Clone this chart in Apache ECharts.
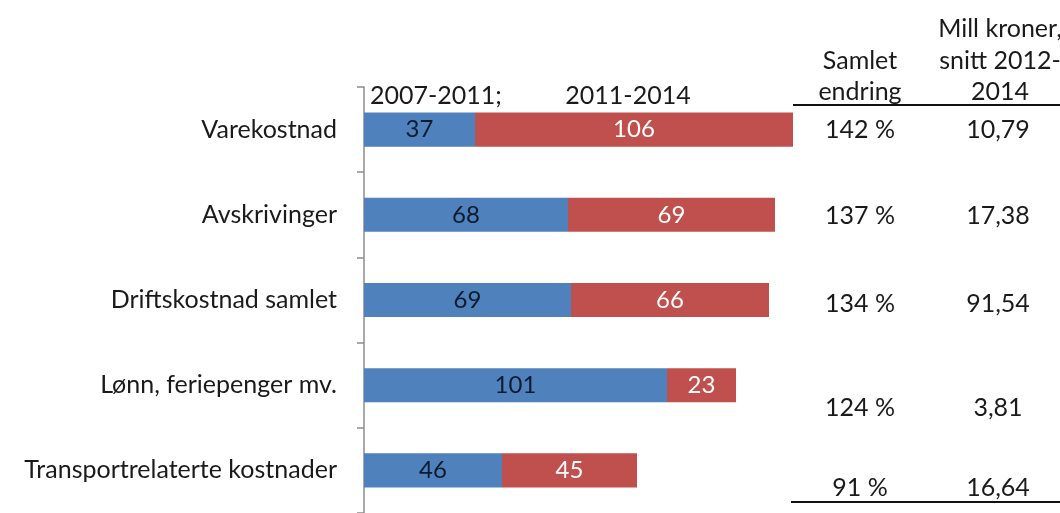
<html>
    <head>
        <meta charset="utf-8">
        <script src="https://cdn.jsdelivr.net/npm/echarts@6/dist/echarts.min.js"></script>
        <style>
            html, body { margin: 0; padding: 0; background: #fff; }
            #main { width: 1060px; height: 513px; }
        </style>
    </head>
    <body>
        <div id="main"></div>
        <script>

        var categories = ['Varekostnad', 'Avskrivinger', 'Driftskostnad samlet', 'Lønn, feriepenger mv.', 'Transportrelaterte kostnader'];
        var period1 = [37, 68, 69, 101, 46];
        var period2 = [106, 69, 66, 23, 45];
        var periodNames = ['2007-2011;', '2011-2014'];
        var totalChange = ['142 %', '137 %', '134 %', '124 %', '91 %'];
        var millKroner = ['10,79', '17,38', '91,54', '3,81', '16,64'];
        var tableHeaders = [['Samlet', 'endring'], ['Mill kroner,', 'snitt 2012-', '2014']];

        var FONT = 'Lato, "Open Sans", sans-serif';
        var TXT = '#1a1a1a';
        var myChart = echarts.init(document.getElementById('main'));

        // table rows are not quite aligned with the bars in the original
        var rowY = [130, 216, 304, 408, 488];
        var col1X = 860, col2X = 998;

        function text(str, x, y, align) {
            return {
                type: 'text',
                style: {
                    text: str, x: x, y: y,
                    align: align || 'center', verticalAlign: 'middle',
                    fill: TXT, font: '25px ' + FONT
                }
            };
        }

        var graphics = [];
        graphics.push(text(periodNames[0], 370, 96, 'left'));
        graphics.push(text(periodNames[1], 628, 96, 'center'));
        graphics.push(text(tableHeaders[0][0], col1X, 61));
        graphics.push(text(tableHeaders[0][1], col1X, 92));
        graphics.push(text(tableHeaders[1][0], 1000, 29));
        graphics.push(text(tableHeaders[1][1], 1000, 61));
        graphics.push(text(tableHeaders[1][2], 1000, 92));
        for (var i = 0; i < categories.length; i++) {
            graphics.push(text(totalChange[i], col1X, rowY[i]));
            graphics.push(text(millKroner[i], col2X, rowY[i]));
        }
        graphics.push({ type: 'line', shape: {x1: 793, y1: 105, x2: 1060, y2: 105}, style: {stroke: '#111', lineWidth: 2} });
        graphics.push({ type: 'line', shape: {x1: 791, y1: 502, x2: 1060, y2: 502}, style: {stroke: '#111', lineWidth: 2} });

        myChart.setOption({
            backgroundColor: '#fff',
            animation: false,
            textStyle: {fontFamily: FONT},
            grid: {left: 364, top: 87, width: 600, height: 432, containLabel: false},
            xAxis: {
                type: 'value', min: 0, max: 200, show: false
            },
            yAxis: {
                type: 'category',
                inverse: true,
                data: categories,
                axisLine: {lineStyle: {color: '#8c8c8c', width: 1.5}},
                axisTick: {show: true, length: 7, lineStyle: {color: '#8c8c8c', width: 1.5}},
                axisLabel: {color: TXT, fontSize: 25, margin: 27, fontFamily: FONT}
            },
            series: [
                {
                    name: periodNames[0],
                    type: 'bar',
                    stack: 'total',
                    barWidth: '40%',
                    data: period1,
                    itemStyle: {color: '#4f81bd'},
                    label: {show: true, position: 'inside', color: '#0d1b2e', fontSize: 24, fontFamily: FONT}
                },
                {
                    name: periodNames[1],
                    type: 'bar',
                    stack: 'total',
                    barWidth: '40%',
                    data: period2,
                    itemStyle: {color: '#c0504d'},
                    label: {show: true, position: 'inside', color: '#ffffff', fontSize: 24, fontFamily: FONT}
                }
            ],
            graphic: graphics
        });

        </script>
    </body>
</html>
